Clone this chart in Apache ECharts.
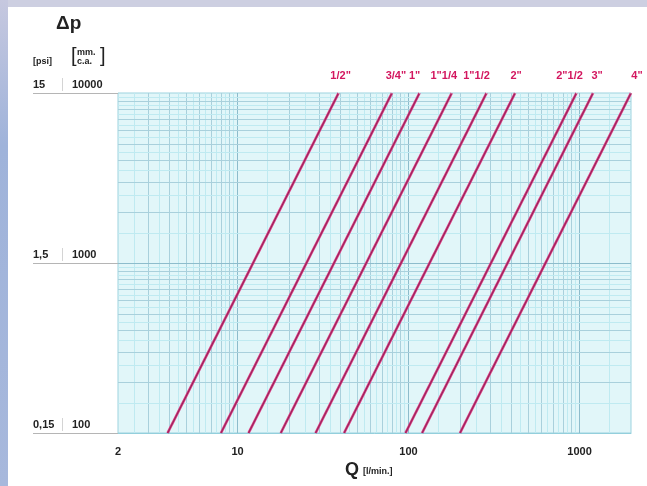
<!DOCTYPE html>
<html>
<head>
<meta charset="utf-8">
<script src="https://cdn.jsdelivr.net/npm/echarts@6/dist/echarts.min.js"></script>
<style>
html,body{margin:0;padding:0;background:#fff;}
#chart{width:647px;height:486px;}
</style>
</head>
<body>
<div id="chart"></div>
<script>
// ---- data ----
const sizes = ['1/2"', '3/4"', '1"', '1"1/4', '1"1/2', '2"', '2"1/2', '3"', '4"'];
const flowAtLowDp = [3.9, 8.0, 11.6, 17.9, 28.6, 42, 96, 120, 200];     // l/min at 100 mm c.a.
const flowAtHighDp = [39, 80, 116, 179, 286, 420, 960, 1200, 2000];    // l/min at 10000 mm c.a.
const dpLow = 100;
const dpHigh = 10000;
const xTickValues = [2, 10, 100, 1000];
const yTickValues = [100, 1000, 10000];
const psiLabels = ['0,15', '1,5', '15'];
const mmLabels = ['100', '1000', '10000'];

// ---- layout / style ----
const labelDx = [2, 4, -5, -8, -10, 1, -7, 4, 6];
const FONT = 'Liberation Sans, Arial, sans-serif';

function logLines(axisKey, lo, hi) {
  const out = [];
  for (let d = 1; d <= 1000; d *= 10) {
    for (let k = 1; k < 10; k += 0.5) {
      const v = k * d;
      if (v <= lo || v >= hi) continue;
      let style;
      if (k === 1) style = {color: '#8dbccc', width: 1};
      else if (Number.isInteger(k)) style = {color: '#a9d0dc', width: 1};
      else style = {color: '#bfeaf1', width: 1};
      const item = {lineStyle: Object.assign({type: 'solid'}, style)};
      item[axisKey] = v;
      out.push(item);
    }
  }
  return out;
}

const series = [];
series.push({
  name: 'grid',
  type: 'line',
  data: [[2, 100]],
  showSymbol: false,
  symbol: 'none',
  lineStyle: {opacity: 0},
  silent: true,
  z: 1,
  markLine: {
    z: 1,
    silent: true,
    symbol: ['none', 'none'],
    label: {show: false},
    animation: false,
    data: logLines('xAxis', 2, 2000).concat(logLines('yAxis', 100, 10000))
  }
});

sizes.forEach((s, i) => {
  const pts = [[flowAtLowDp[i], dpLow], [flowAtHighDp[i], dpHigh]];
  series.push({
    name: s,
    type: 'line',
    z: 10,
    symbol: 'none',
    animation: false,
    lineStyle: {color: '#dd327b', width: 2.6},
    data: pts
  });
  series.push({
    name: s + '_core',
    type: 'line',
    z: 11,
    symbol: 'none',
    animation: false,
    silent: true,
    lineStyle: {color: '#8a2a5c', width: 1},
    data: pts
  });
});

series.push({
  name: 'labels',
  type: 'scatter',
  z: 12,
  clip: false,
  symbol: 'circle',
  symbolSize: 1,
  silent: true,
  animation: false,
  itemStyle: {color: '#ffffff', opacity: 1, borderWidth: 0},
  label: {
    show: true, position: 'top', distance: 11, formatter: '{b}', opacity: 1,
    color: '#d3175f', fontWeight: 'bold', fontSize: 11, fontFamily: FONT,
    textBorderWidth: 0
  },
  data: sizes.map((s, i) => ({
    name: s,
    value: [flowAtHighDp[i], dpHigh],
    label: {offset: [labelDx[i], 0]}
  }))
});

const chart = echarts.init(document.getElementById('chart'), null, {renderer: 'canvas'});
chart.setOption({
  animation: false,
  backgroundColor: '#ffffff',
  grid: {
    left: 118, right: 16, top: 93, bottom: 53,
    show: true, backgroundColor: '#e1f6f9', borderColor: '#9dd3df', borderWidth: 1
  },
  xAxis: {
    type: 'log', logBase: 10, min: 2, max: 2000,
    axisLine: {show: true, lineStyle: {color: '#93cfdc', width: 1}},
    axisTick: {show: false},
    splitLine: {show: false},
    minorSplitLine: {show: false},
    axisLabel: {
      customValues: xTickValues,
      margin: 13, color: '#222', fontWeight: 'bold', fontSize: 11, fontFamily: FONT,
      formatter: v => String(Math.round(v))
    }
  },
  yAxis: {
    type: 'log', logBase: 10, min: 100, max: 10000,
    axisLine: {show: false},
    axisTick: {show: true, customValues: yTickValues, length: 85, lineStyle: {color: '#b5b5b5', width: 1}},
    splitLine: {show: false},
    axisLabel: {
      customValues: yTickValues,
      align: 'left', verticalAlign: 'bottom', margin: 85,
      padding: [0, 0, 2, 0],
      formatter: v => {
        const i = yTickValues.indexOf(Math.round(v));
        return '{a|' + psiLabels[i] + '}{s|}{b|' + mmLabels[i] + '}';
      },
      rich: {
        a: {width: 29, color: '#222', fontWeight: 'bold', fontSize: 11, fontFamily: FONT},
        s: {width: 1, height: 13, backgroundColor: '#d4d4d4'},
        b: {padding: [0, 0, 0, 9], color: '#222', fontWeight: 'bold', fontSize: 11, fontFamily: FONT}
      }
    }
  },
  graphic: [
    {type: 'rect', shape: {x: 0, y: 0, width: 647, height: 7}, style: {fill: '#cdcfe1'}, silent: true},
    {type: 'rect', shape: {x: 0, y: 0, width: 8, height: 486}, style: {
      fill: new echarts.graphic.LinearGradient(0, 0, 0, 1, [
        {offset: 0, color: '#c6c8df'}, {offset: 0.3, color: '#9fb3da'}, {offset: 1, color: '#a7b8dc'}
      ])}, silent: true},
    {type: 'text', x: 56, y: 14, style: {text: 'Δp', font: 'bold 19px ' + FONT, fill: '#222'}},
    {type: 'text', x: 33, y: 57, style: {text: '[psi]', font: 'bold 9px ' + FONT, fill: '#222'}},
    {type: 'text', x: 71, y: 46, style: {text: '[', font: '20px ' + FONT, fill: '#222'}},
    {type: 'text', x: 77, y: 48, style: {text: 'mm.\nc.a.', font: 'bold 9px ' + FONT, fill: '#222', lineHeight: 9}},
    {type: 'text', x: 100, y: 46, style: {text: ']', font: '20px ' + FONT, fill: '#222'}},
    {type: 'text', x: 345, y: 461, style: {text: 'Q', font: 'bold 18px ' + FONT, fill: '#222'}},
    {type: 'text', x: 363, y: 467, style: {text: '[l/min.]', font: 'bold 9px ' + FONT, fill: '#222'}}
  ],
  series: series
});
</script>
</body>
</html>
